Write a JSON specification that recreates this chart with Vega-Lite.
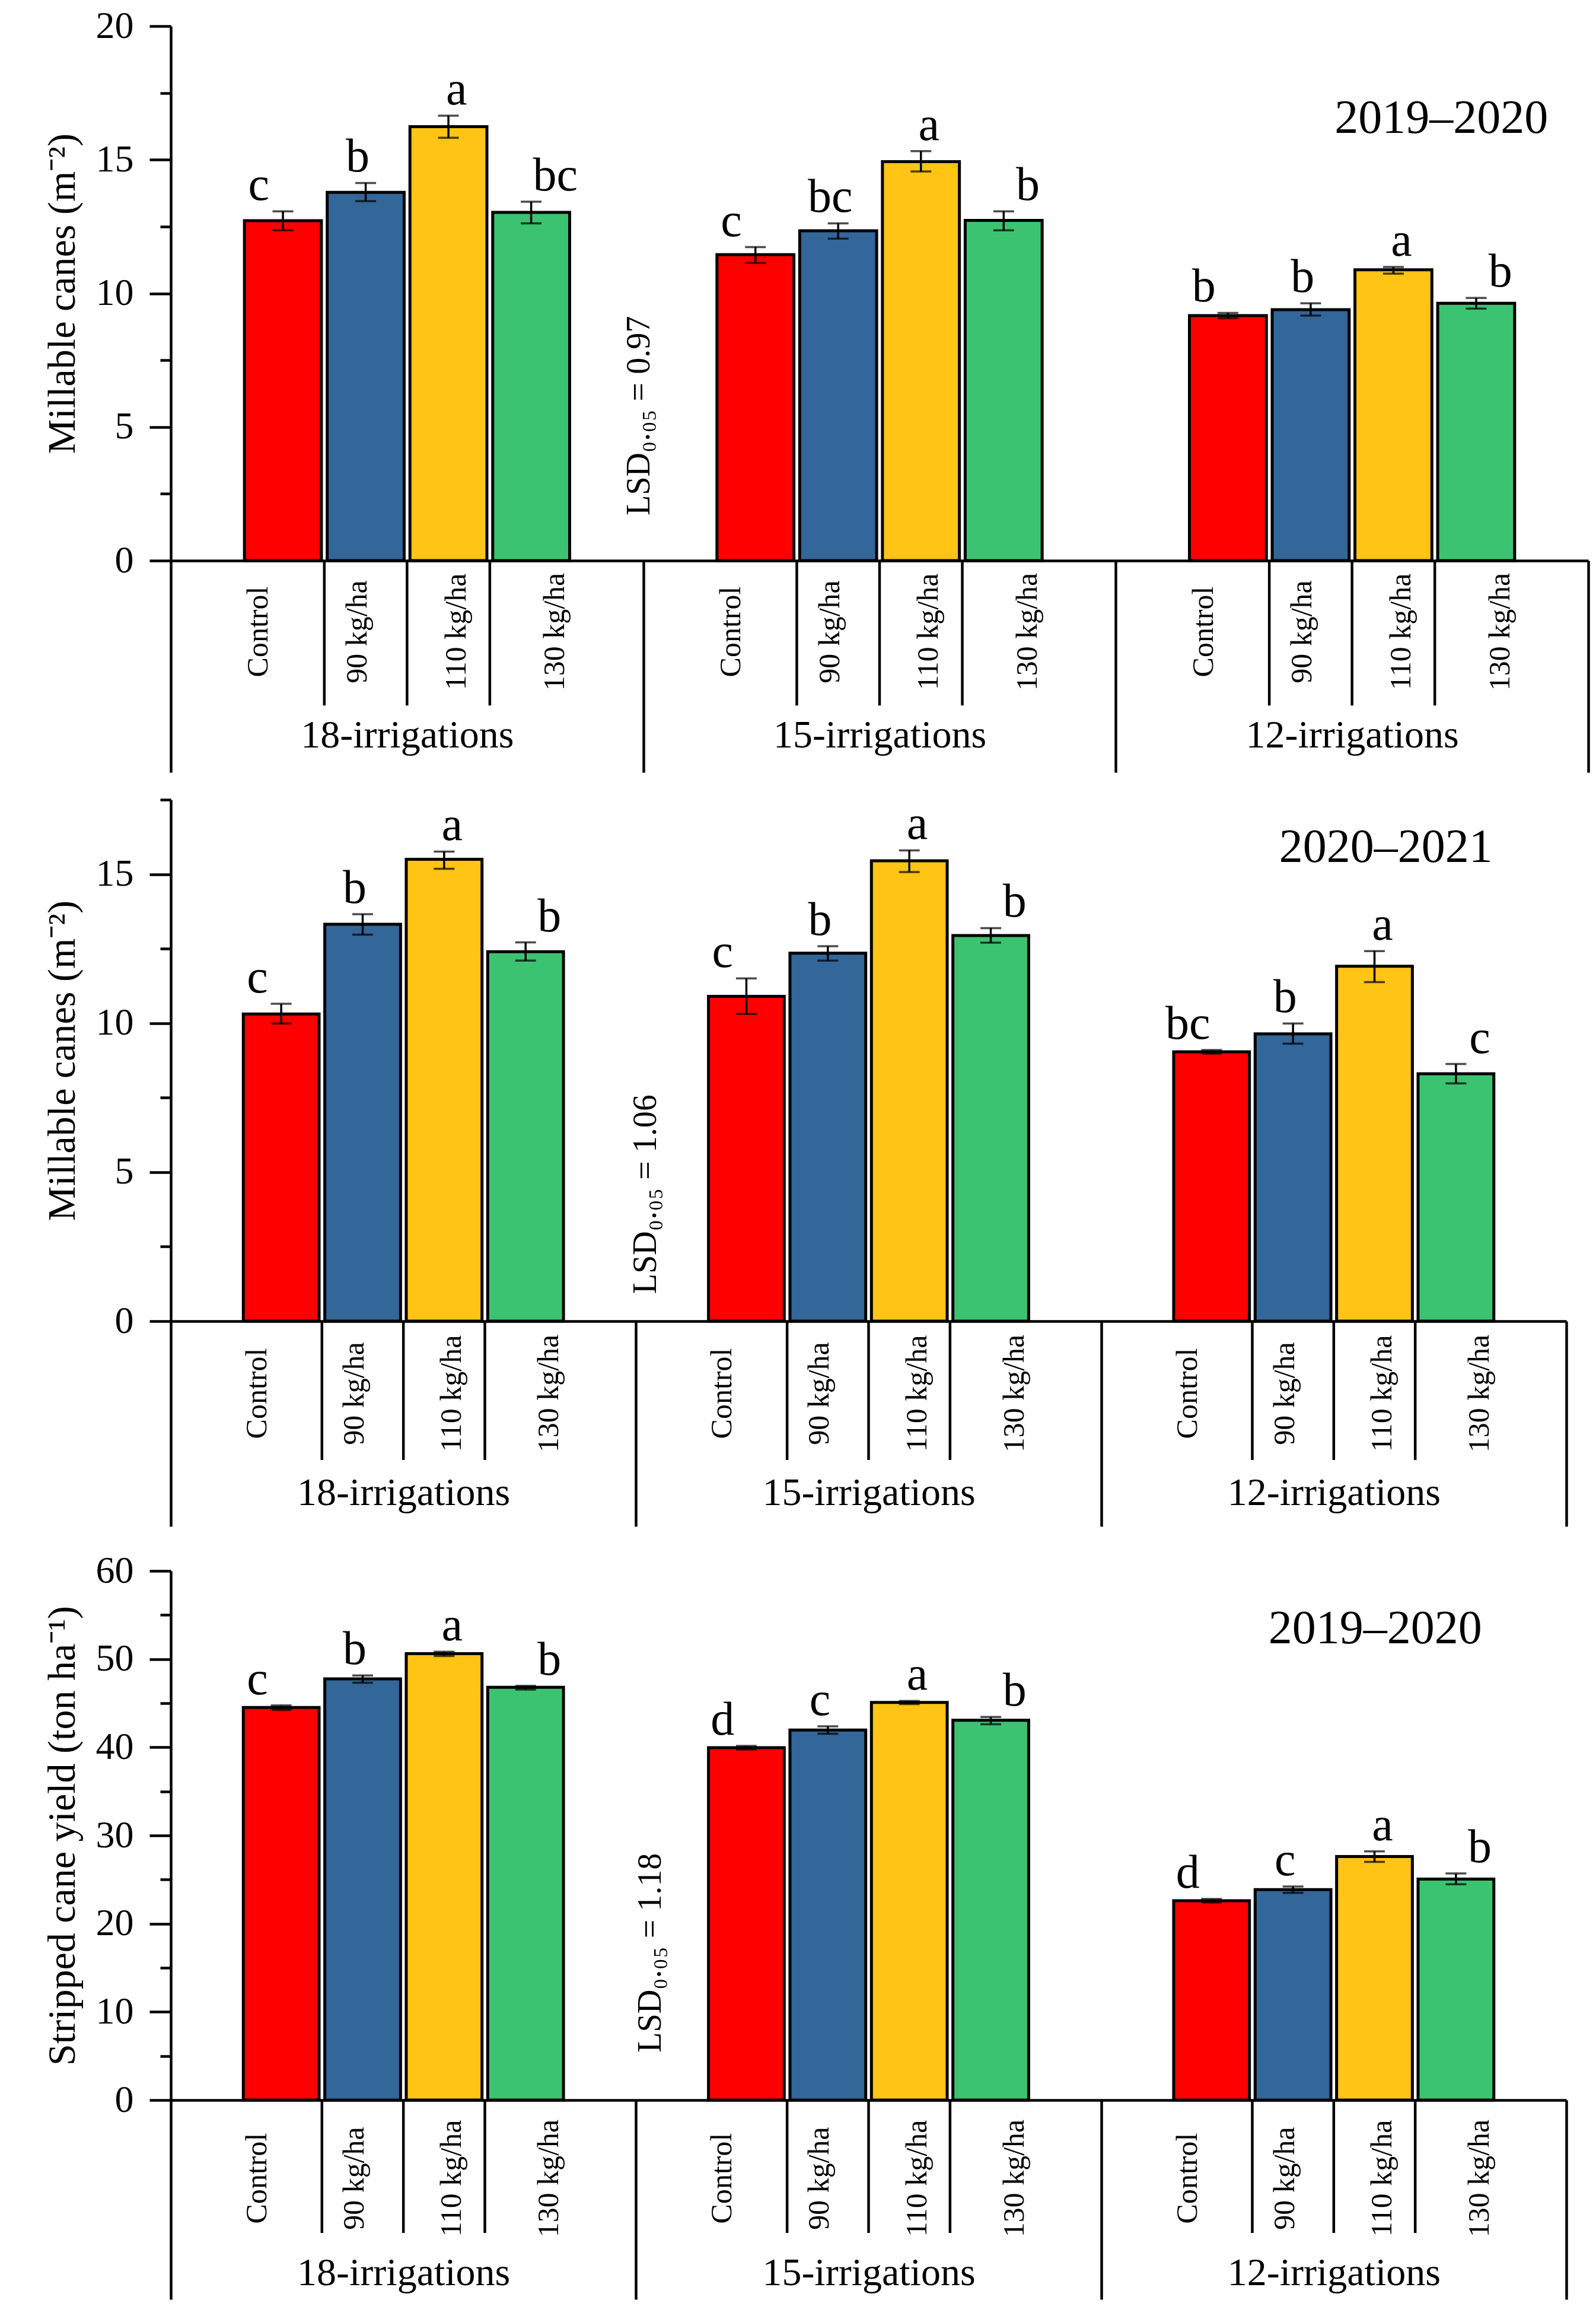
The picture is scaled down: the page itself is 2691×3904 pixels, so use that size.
{
  "$schema": "https://vega.github.io/schema/vega-lite/v6.json",
  "background": "white",
  "padding": {"left": 72, "top": 12, "right": 5, "bottom": 5},
  "spacing": 40,
  "config": {
    "font": "Liberation Serif",
    "view": {"stroke": null},
    "axis": {"grid": false, "domainColor": "black", "tickColor": "black", "labelColor": "black", "titleColor": "black", "titleFontWeight": "normal", "labelLimit": 1000, "titleLimit": 2000, "labelOverlap": false},
    "text": {"color": "black"}
  },
  "datasets": {
    "bars": [
      {"panel": "p1", "group": "18-irrigations", "trt": "Control", "mean": 12.72, "lo": 12.36, "hi": 13.07, "letter": "c"},
      {"panel": "p1", "group": "18-irrigations", "trt": "90 kg/ha", "mean": 13.78, "lo": 13.45, "hi": 14.13, "letter": "b"},
      {"panel": "p1", "group": "18-irrigations", "trt": "110 kg/ha", "mean": 16.24, "lo": 15.82, "hi": 16.65, "letter": "a"},
      {"panel": "p1", "group": "18-irrigations", "trt": "130 kg/ha", "mean": 13.03, "lo": 12.62, "hi": 13.43, "letter": "bc"},
      {"panel": "p1", "group": "15-irrigations", "trt": "Control", "mean": 11.45, "lo": 11.14, "hi": 11.73, "letter": "c"},
      {"panel": "p1", "group": "15-irrigations", "trt": "90 kg/ha", "mean": 12.34, "lo": 12.05, "hi": 12.62, "letter": "bc"},
      {"panel": "p1", "group": "15-irrigations", "trt": "110 kg/ha", "mean": 14.93, "lo": 14.56, "hi": 15.32, "letter": "a"},
      {"panel": "p1", "group": "15-irrigations", "trt": "130 kg/ha", "mean": 12.73, "lo": 12.36, "hi": 13.07, "letter": "b"},
      {"panel": "p1", "group": "12-irrigations", "trt": "Control", "mean": 9.17, "lo": 9.07, "hi": 9.27, "letter": "b"},
      {"panel": "p1", "group": "12-irrigations", "trt": "90 kg/ha", "mean": 9.39, "lo": 9.17, "hi": 9.63, "letter": "b"},
      {"panel": "p1", "group": "12-irrigations", "trt": "110 kg/ha", "mean": 10.88, "lo": 10.74, "hi": 10.99, "letter": "a"},
      {"panel": "p1", "group": "12-irrigations", "trt": "130 kg/ha", "mean": 9.63, "lo": 9.43, "hi": 9.83, "letter": "b"},
      {"panel": "p2", "group": "18-irrigations", "trt": "Control", "mean": 10.31, "lo": 9.99, "hi": 10.65, "letter": "c"},
      {"panel": "p2", "group": "18-irrigations", "trt": "90 kg/ha", "mean": 13.32, "lo": 12.97, "hi": 13.66, "letter": "b"},
      {"panel": "p2", "group": "18-irrigations", "trt": "110 kg/ha", "mean": 15.5, "lo": 15.18, "hi": 15.76, "letter": "a"},
      {"panel": "p2", "group": "18-irrigations", "trt": "130 kg/ha", "mean": 12.4, "lo": 12.1, "hi": 12.71, "letter": "b"},
      {"panel": "p2", "group": "15-irrigations", "trt": "Control", "mean": 10.9, "lo": 10.31, "hi": 11.5, "letter": "c"},
      {"panel": "p2", "group": "15-irrigations", "trt": "90 kg/ha", "mean": 12.35, "lo": 12.1, "hi": 12.58, "letter": "b"},
      {"panel": "p2", "group": "15-irrigations", "trt": "110 kg/ha", "mean": 15.45, "lo": 15.07, "hi": 15.8, "letter": "a"},
      {"panel": "p2", "group": "15-irrigations", "trt": "130 kg/ha", "mean": 12.94, "lo": 12.7, "hi": 13.19, "letter": "b"},
      {"panel": "p2", "group": "12-irrigations", "trt": "Control", "mean": 9.04, "lo": 8.98, "hi": 9.1, "letter": "bc"},
      {"panel": "p2", "group": "12-irrigations", "trt": "90 kg/ha", "mean": 9.64, "lo": 9.31, "hi": 9.99, "letter": "b"},
      {"panel": "p2", "group": "12-irrigations", "trt": "110 kg/ha", "mean": 11.91, "lo": 11.38, "hi": 12.42, "letter": "a"},
      {"panel": "p2", "group": "12-irrigations", "trt": "130 kg/ha", "mean": 8.3, "lo": 7.98, "hi": 8.63, "letter": "c"},
      {"panel": "p3", "group": "18-irrigations", "trt": "Control", "mean": 44.52, "lo": 44.23, "hi": 44.74, "letter": "c"},
      {"panel": "p3", "group": "18-irrigations", "trt": "90 kg/ha", "mean": 47.75, "lo": 47.32, "hi": 48.15, "letter": "b"},
      {"panel": "p3", "group": "18-irrigations", "trt": "110 kg/ha", "mean": 50.62, "lo": 50.35, "hi": 50.84, "letter": "a"},
      {"panel": "p3", "group": "18-irrigations", "trt": "130 kg/ha", "mean": 46.8, "lo": 46.54, "hi": 46.96, "letter": "b"},
      {"panel": "p3", "group": "15-irrigations", "trt": "Control", "mean": 39.95, "lo": 39.75, "hi": 40.15, "letter": "d"},
      {"panel": "p3", "group": "15-irrigations", "trt": "90 kg/ha", "mean": 41.96, "lo": 41.53, "hi": 42.37, "letter": "c"},
      {"panel": "p3", "group": "15-irrigations", "trt": "110 kg/ha", "mean": 45.08, "lo": 44.9, "hi": 45.25, "letter": "a"},
      {"panel": "p3", "group": "15-irrigations", "trt": "130 kg/ha", "mean": 43.06, "lo": 42.61, "hi": 43.44, "letter": "b"},
      {"panel": "p3", "group": "12-irrigations", "trt": "Control", "mean": 22.6, "lo": 22.4, "hi": 22.8, "letter": "d"},
      {"panel": "p3", "group": "12-irrigations", "trt": "90 kg/ha", "mean": 23.87, "lo": 23.49, "hi": 24.21, "letter": "c"},
      {"panel": "p3", "group": "12-irrigations", "trt": "110 kg/ha", "mean": 27.62, "lo": 27.0, "hi": 28.2, "letter": "a"},
      {"panel": "p3", "group": "12-irrigations", "trt": "130 kg/ha", "mean": 25.06, "lo": 24.46, "hi": 25.69, "letter": "b"}
    ]
  },
  "vconcat": [
    {
      "width": 2390, "height": 901,
      "data": {"name": "bars"},
      "transform": [{"filter": "datum.panel == 'p1'"}],
      "resolve": {"axis": {"y": "independent"}, "scale": {"xOffset": "independent"}},
      "layer": [
        {
          "mark": {"type": "bar", "stroke": "black", "strokeWidth": 5},
          "encoding": {
            "x": {"field": "group", "type": "nominal", "sort": ["18-irrigations", "15-irrigations", "12-irrigations"], "scale": {"domain": ["18-irrigations", "15-irrigations", "12-irrigations"], "paddingInner": 0, "paddingOuter": 0},
              "axis": {"title": null, "orient": "bottom", "tickBand": "extent", "tickSize": 357, "tickWidth": 4.5, "domainWidth": 4.5, "labelAngle": 0, "labelFontSize": 66, "labelBaseline": "alphabetic", "labelPadding": -43}},
            "xOffset": {"field": "trt", "type": "nominal", "sort": ["Control", "90 kg/ha", "110 kg/ha", "130 kg/ha"], "scale": {"domain": ["Control", "90 kg/ha", "110 kg/ha", "130 kg/ha"], "paddingInner": 0.07, "paddingOuter": 0.89}},
            "y": {"field": "mean", "type": "quantitative", "scale": {"domain": [0, 20], "nice": false, "zero": false},
              "axis": {"orient": "left", "title": "Millable canes (m⁻²)", "values": [0, 5, 10, 15, 20], "tickSize": 36, "tickWidth": 4.5, "domainWidth": 4.5, "labelFontSize": 64, "labelPadding": 27, "titleFontSize": 66, "titlePadding": 22}},
            "color": {"field": "trt", "type": "nominal", "scale": {"domain": ["Control", "90 kg/ha", "110 kg/ha", "130 kg/ha"], "range": ["#FF0000", "#336699", "#FFC414", "#3CC372"]}, "legend": null}
          }
        },
        {
          "mark": {"type": "rule", "strokeWidth": 3.5, "color": "black"},
          "encoding": {
            "x": {"field": "group", "type": "nominal"},
            "xOffset": {"field": "trt", "type": "nominal", "scale": {"domain": ["Control", "90 kg/ha", "110 kg/ha", "130 kg/ha"], "paddingInner": 0.07, "paddingOuter": 0.89}},
            "y": {"field": "lo", "type": "quantitative", "axis": {"orient": "left", "title": null, "values": [2.5, 7.5, 12.5, 17.5], "labels": false, "tickSize": 18, "tickWidth": 4.5, "domain": false}},
            "y2": {"field": "hi"}
          }
        },
        {
          "mark": {"type": "tick", "size": 35, "thickness": 3.5, "color": "black", "orient": "horizontal"},
          "encoding": {
            "x": {"field": "group", "type": "nominal"},
            "xOffset": {"field": "trt", "type": "nominal", "scale": {"domain": ["Control", "90 kg/ha", "110 kg/ha", "130 kg/ha"], "paddingInner": 0.07, "paddingOuter": 0.89}},
            "y": {"field": "lo", "type": "quantitative", "axis": null}
          }
        },
        {
          "mark": {"type": "tick", "size": 35, "thickness": 3.5, "color": "black", "orient": "horizontal"},
          "encoding": {
            "x": {"field": "group", "type": "nominal"},
            "xOffset": {"field": "trt", "type": "nominal", "scale": {"domain": ["Control", "90 kg/ha", "110 kg/ha", "130 kg/ha"], "paddingInner": 0.07, "paddingOuter": 0.89}},
            "y": {"field": "hi", "type": "quantitative", "axis": null}
          }
        },
        {
          "mark": {"type": "text", "fontSize": 80, "baseline": "alphabetic", "align": "center", "dy": -19},
          "encoding": {
            "x": {"field": "group", "type": "nominal"},
            "xOffset": {"field": "trt", "type": "nominal", "scale": {"domain": ["Control", "90 kg/ha", "110 kg/ha", "130 kg/ha"], "paddingInner": 0.07, "paddingOuter": 0.89}},
            "y": {"field": "hi", "type": "quantitative", "axis": null},
            "text": {"field": "letter"}
          }
        },
        {
          "mark": {"type": "text", "fontSize": 50, "angle": 270, "align": "center", "baseline": "middle", "dx": -120},
          "encoding": {
            "x": {"field": "group", "type": "nominal"},
            "xOffset": {"field": "trt", "type": "nominal", "scale": {"domain": ["Control", "90 kg/ha", "110 kg/ha", "130 kg/ha"], "paddingInner": 0.07, "paddingOuter": 0.89}},
            "y": {"datum": 0, "type": "quantitative", "axis": null},
            "text": {"field": "trt"}
          }
        },
        {
          "transform": [{"filter": "datum.trt != 'Control'"}],
          "mark": {"type": "rule", "strokeWidth": 4.5, "color": "black"},
          "encoding": {
            "x": {"field": "group", "type": "nominal"},
            "xOffset": {"field": "trt", "type": "nominal", "scale": {"domain": ["Control", "90 kg/ha", "110 kg/ha", "130 kg/ha"], "paddingInner": 0, "paddingOuter": 0.855, "align": 0.2076}},
            "y": {"datum": 0, "type": "quantitative", "axis": null},
            "y2": {"datum": -5.42}
          }
        },
        {
          "data": {"values": [{"label": "LSD₀.₀₅ = 0.97"}]},
          "mark": {"type": "text", "fontSize": 56, "angle": 270, "align": "center", "baseline": "middle", "dy": -7},
          "encoding": {
            "x": {"datum": "15-irrigations", "type": "nominal", "bandPosition": 0},
            "y": {"datum": 5.42, "type": "quantitative", "axis": null},
            "text": {"field": "label"}
          }
        },
        {
          "data": {"values": [{"label": "2019–2020"}]},
          "mark": {"type": "text", "fontSize": 80, "align": "center", "baseline": "alphabetic"},
          "encoding": {
            "x": {"datum": "12-irrigations", "type": "nominal", "bandPosition": 0.689},
            "y": {"datum": 16.0, "type": "quantitative", "axis": null},
            "text": {"field": "label"}
          }
        }
      ]
    },
    {
      "width": 2353, "height": 879,
      "data": {"name": "bars"},
      "transform": [{"filter": "datum.panel == 'p2'"}],
      "resolve": {"axis": {"y": "independent"}, "scale": {"xOffset": "independent"}},
      "layer": [
        {
          "mark": {"type": "bar", "stroke": "black", "strokeWidth": 5},
          "encoding": {
            "x": {"field": "group", "type": "nominal", "sort": ["18-irrigations", "15-irrigations", "12-irrigations"], "scale": {"domain": ["18-irrigations", "15-irrigations", "12-irrigations"], "paddingInner": 0, "paddingOuter": 0},
              "axis": {"title": null, "orient": "bottom", "tickBand": "extent", "tickSize": 346, "tickWidth": 4.5, "domainWidth": 4.5, "labelAngle": 0, "labelFontSize": 66, "labelBaseline": "alphabetic", "labelPadding": -37}},
            "xOffset": {"field": "trt", "type": "nominal", "sort": ["Control", "90 kg/ha", "110 kg/ha", "130 kg/ha"], "scale": {"domain": ["Control", "90 kg/ha", "110 kg/ha", "130 kg/ha"], "paddingInner": 0.07, "paddingOuter": 0.89}},
            "y": {"field": "mean", "type": "quantitative", "scale": {"domain": [0, 17.5], "nice": false, "zero": false},
              "axis": {"orient": "left", "title": "Millable canes (m⁻²)", "values": [0, 5, 10, 15], "tickSize": 36, "tickWidth": 4.5, "domainWidth": 4.5, "labelFontSize": 64, "labelPadding": 27, "titleFontSize": 66, "titlePadding": 22}},
            "color": {"field": "trt", "type": "nominal", "scale": {"domain": ["Control", "90 kg/ha", "110 kg/ha", "130 kg/ha"], "range": ["#FF0000", "#336699", "#FFC414", "#3CC372"]}, "legend": null}
          }
        },
        {
          "mark": {"type": "rule", "strokeWidth": 3.5, "color": "black"},
          "encoding": {
            "x": {"field": "group", "type": "nominal"},
            "xOffset": {"field": "trt", "type": "nominal", "scale": {"domain": ["Control", "90 kg/ha", "110 kg/ha", "130 kg/ha"], "paddingInner": 0.07, "paddingOuter": 0.89}},
            "y": {"field": "lo", "type": "quantitative", "axis": {"orient": "left", "title": null, "values": [2.5, 7.5, 12.5, 17.5], "labels": false, "tickSize": 18, "tickWidth": 4.5, "domain": false}},
            "y2": {"field": "hi"}
          }
        },
        {
          "mark": {"type": "tick", "size": 35, "thickness": 3.5, "color": "black", "orient": "horizontal"},
          "encoding": {
            "x": {"field": "group", "type": "nominal"},
            "xOffset": {"field": "trt", "type": "nominal", "scale": {"domain": ["Control", "90 kg/ha", "110 kg/ha", "130 kg/ha"], "paddingInner": 0.07, "paddingOuter": 0.89}},
            "y": {"field": "lo", "type": "quantitative", "axis": null}
          }
        },
        {
          "mark": {"type": "tick", "size": 35, "thickness": 3.5, "color": "black", "orient": "horizontal"},
          "encoding": {
            "x": {"field": "group", "type": "nominal"},
            "xOffset": {"field": "trt", "type": "nominal", "scale": {"domain": ["Control", "90 kg/ha", "110 kg/ha", "130 kg/ha"], "paddingInner": 0.07, "paddingOuter": 0.89}},
            "y": {"field": "hi", "type": "quantitative", "axis": null}
          }
        },
        {
          "mark": {"type": "text", "fontSize": 80, "baseline": "alphabetic", "align": "center", "dy": -19},
          "encoding": {
            "x": {"field": "group", "type": "nominal"},
            "xOffset": {"field": "trt", "type": "nominal", "scale": {"domain": ["Control", "90 kg/ha", "110 kg/ha", "130 kg/ha"], "paddingInner": 0.07, "paddingOuter": 0.89}},
            "y": {"field": "hi", "type": "quantitative", "axis": null},
            "text": {"field": "letter"}
          }
        },
        {
          "mark": {"type": "text", "fontSize": 50, "angle": 270, "align": "center", "baseline": "middle", "dx": -122},
          "encoding": {
            "x": {"field": "group", "type": "nominal"},
            "xOffset": {"field": "trt", "type": "nominal", "scale": {"domain": ["Control", "90 kg/ha", "110 kg/ha", "130 kg/ha"], "paddingInner": 0.07, "paddingOuter": 0.89}},
            "y": {"datum": 0, "type": "quantitative", "axis": null},
            "text": {"field": "trt"}
          }
        },
        {
          "transform": [{"filter": "datum.trt != 'Control'"}],
          "mark": {"type": "rule", "strokeWidth": 4.5, "color": "black"},
          "encoding": {
            "x": {"field": "group", "type": "nominal"},
            "xOffset": {"field": "trt", "type": "nominal", "scale": {"domain": ["Control", "90 kg/ha", "110 kg/ha", "130 kg/ha"], "paddingInner": 0, "paddingOuter": 0.855, "align": 0.2076}},
            "y": {"datum": 0, "type": "quantitative", "axis": null},
            "y2": {"datum": -4.66}
          }
        },
        {
          "data": {"values": [{"label": "LSD₀.₀₅ = 1.06"}]},
          "mark": {"type": "text", "fontSize": 56, "angle": 270, "align": "center", "baseline": "middle", "dy": 17},
          "encoding": {
            "x": {"datum": "15-irrigations", "type": "nominal", "bandPosition": 0},
            "y": {"datum": 4.26, "type": "quantitative", "axis": null},
            "text": {"field": "label"}
          }
        },
        {
          "data": {"values": [{"label": "2020–2021"}]},
          "mark": {"type": "text", "fontSize": 80, "align": "center", "baseline": "alphabetic"},
          "encoding": {
            "x": {"datum": "12-irrigations", "type": "nominal", "bandPosition": 0.612},
            "y": {"datum": 15.41, "type": "quantitative", "axis": null},
            "text": {"field": "label"}
          }
        }
      ]
    },
    {
      "width": 2353, "height": 892,
      "data": {"name": "bars"},
      "transform": [{"filter": "datum.panel == 'p3'"}],
      "resolve": {"axis": {"y": "independent"}, "scale": {"xOffset": "independent"}},
      "layer": [
        {
          "mark": {"type": "bar", "stroke": "black", "strokeWidth": 5},
          "encoding": {
            "x": {"field": "group", "type": "nominal", "sort": ["18-irrigations", "15-irrigations", "12-irrigations"], "scale": {"domain": ["18-irrigations", "15-irrigations", "12-irrigations"], "paddingInner": 0, "paddingOuter": 0},
              "axis": {"title": null, "orient": "bottom", "tickBand": "extent", "tickSize": 336, "tickWidth": 4.5, "domainWidth": 4.5, "labelAngle": 0, "labelFontSize": 66, "labelBaseline": "alphabetic", "labelPadding": -25}},
            "xOffset": {"field": "trt", "type": "nominal", "sort": ["Control", "90 kg/ha", "110 kg/ha", "130 kg/ha"], "scale": {"domain": ["Control", "90 kg/ha", "110 kg/ha", "130 kg/ha"], "paddingInner": 0.07, "paddingOuter": 0.89}},
            "y": {"field": "mean", "type": "quantitative", "scale": {"domain": [0, 60], "nice": false, "zero": false},
              "axis": {"orient": "left", "title": "Stripped cane yield (ton ha⁻¹)", "values": [0, 10, 20, 30, 40, 50, 60], "tickSize": 36, "tickWidth": 4.5, "domainWidth": 4.5, "labelFontSize": 64, "labelPadding": 27, "titleFontSize": 66, "titlePadding": 22}},
            "color": {"field": "trt", "type": "nominal", "scale": {"domain": ["Control", "90 kg/ha", "110 kg/ha", "130 kg/ha"], "range": ["#FF0000", "#336699", "#FFC414", "#3CC372"]}, "legend": null}
          }
        },
        {
          "mark": {"type": "rule", "strokeWidth": 3.5, "color": "black"},
          "encoding": {
            "x": {"field": "group", "type": "nominal"},
            "xOffset": {"field": "trt", "type": "nominal", "scale": {"domain": ["Control", "90 kg/ha", "110 kg/ha", "130 kg/ha"], "paddingInner": 0.07, "paddingOuter": 0.89}},
            "y": {"field": "lo", "type": "quantitative", "axis": {"orient": "left", "title": null, "values": [5, 15, 25, 35, 45, 55], "labels": false, "tickSize": 18, "tickWidth": 4.5, "domain": false}},
            "y2": {"field": "hi"}
          }
        },
        {
          "mark": {"type": "tick", "size": 35, "thickness": 3.5, "color": "black", "orient": "horizontal"},
          "encoding": {
            "x": {"field": "group", "type": "nominal"},
            "xOffset": {"field": "trt", "type": "nominal", "scale": {"domain": ["Control", "90 kg/ha", "110 kg/ha", "130 kg/ha"], "paddingInner": 0.07, "paddingOuter": 0.89}},
            "y": {"field": "lo", "type": "quantitative", "axis": null}
          }
        },
        {
          "mark": {"type": "tick", "size": 35, "thickness": 3.5, "color": "black", "orient": "horizontal"},
          "encoding": {
            "x": {"field": "group", "type": "nominal"},
            "xOffset": {"field": "trt", "type": "nominal", "scale": {"domain": ["Control", "90 kg/ha", "110 kg/ha", "130 kg/ha"], "paddingInner": 0.07, "paddingOuter": 0.89}},
            "y": {"field": "hi", "type": "quantitative", "axis": null}
          }
        },
        {
          "mark": {"type": "text", "fontSize": 80, "baseline": "alphabetic", "align": "center", "dy": -19},
          "encoding": {
            "x": {"field": "group", "type": "nominal"},
            "xOffset": {"field": "trt", "type": "nominal", "scale": {"domain": ["Control", "90 kg/ha", "110 kg/ha", "130 kg/ha"], "paddingInner": 0.07, "paddingOuter": 0.89}},
            "y": {"field": "hi", "type": "quantitative", "axis": null},
            "text": {"field": "letter"}
          }
        },
        {
          "mark": {"type": "text", "fontSize": 50, "angle": 270, "align": "center", "baseline": "middle", "dx": -132},
          "encoding": {
            "x": {"field": "group", "type": "nominal"},
            "xOffset": {"field": "trt", "type": "nominal", "scale": {"domain": ["Control", "90 kg/ha", "110 kg/ha", "130 kg/ha"], "paddingInner": 0.07, "paddingOuter": 0.89}},
            "y": {"datum": 0, "type": "quantitative", "axis": null},
            "text": {"field": "trt"}
          }
        },
        {
          "transform": [{"filter": "datum.trt != 'Control'"}],
          "mark": {"type": "rule", "strokeWidth": 4.5, "color": "black"},
          "encoding": {
            "x": {"field": "group", "type": "nominal"},
            "xOffset": {"field": "trt", "type": "nominal", "scale": {"domain": ["Control", "90 kg/ha", "110 kg/ha", "130 kg/ha"], "paddingInner": 0, "paddingOuter": 0.855, "align": 0.2076}},
            "y": {"datum": 0, "type": "quantitative", "axis": null},
            "y2": {"datum": -15.06}
          }
        },
        {
          "data": {"values": [{"label": "LSD₀.₀₅ = 1.18"}]},
          "mark": {"type": "text", "fontSize": 56, "angle": 270, "align": "center", "baseline": "middle", "dy": 25},
          "encoding": {
            "x": {"datum": "15-irrigations", "type": "nominal", "bandPosition": 0},
            "y": {"datum": 16.7, "type": "quantitative", "axis": null},
            "text": {"field": "label"}
          }
        },
        {
          "data": {"values": [{"label": "2019–2020"}]},
          "mark": {"type": "text", "fontSize": 80, "align": "center", "baseline": "alphabetic"},
          "encoding": {
            "x": {"datum": "12-irrigations", "type": "nominal", "bandPosition": 0.589},
            "y": {"datum": 51.8, "type": "quantitative", "axis": null},
            "text": {"field": "label"}
          }
        }
      ]
    }
  ]
}
